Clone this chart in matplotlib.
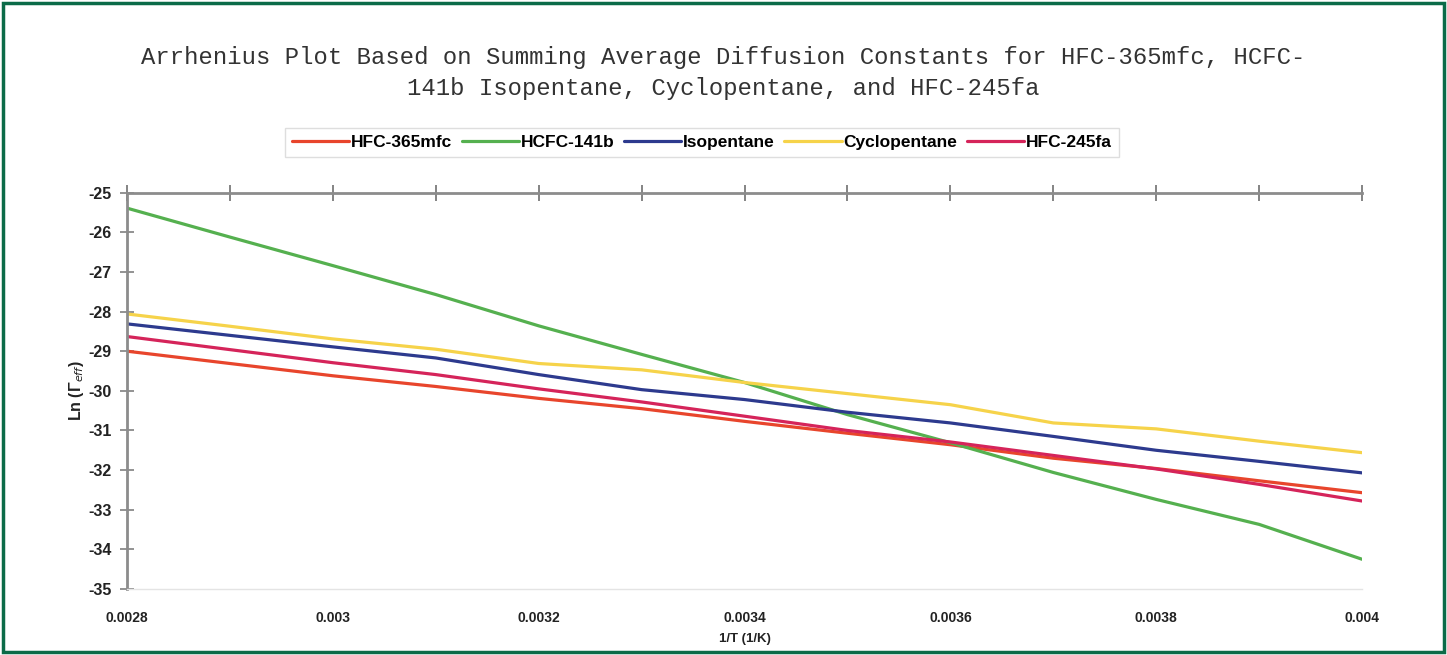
import matplotlib.pyplot as plt
from matplotlib.patches import Rectangle
from matplotlib.ticker import MultipleLocator

plt.rcParams['axes.unicode_minus'] = False

# Data (1/T in 1/K, Ln of effective diffusion constant)
inv_t = [0.0028, 0.0029, 0.0030, 0.0031, 0.0032, 0.0033, 0.0034,
         0.0035, 0.0036, 0.0037, 0.0038, 0.0039, 0.0040]

hfc_365mfc = [-29.00, -29.31, -29.62, -29.89, -30.19, -30.45, -30.77,
              -31.07, -31.36, -31.70, -31.96, -32.27, -32.57]
hcfc_141b = [-25.39, -26.12, -26.84, -27.57, -28.36, -29.08, -29.79,
             -30.60, -31.31, -32.06, -32.74, -33.37, -34.25]
isopentane = [-28.31, -28.60, -28.89, -29.17, -29.59, -29.97, -30.22,
              -30.54, -30.81, -31.15, -31.50, -31.78, -32.07]
cyclopentane = [-28.06, -28.37, -28.69, -28.95, -29.31, -29.47, -29.79,
                -30.07, -30.35, -30.81, -30.96, -31.27, -31.56]
hfc_245fa = [-28.63, -28.96, -29.29, -29.59, -29.95, -30.28, -30.64,
             -31.00, -31.29, -31.63, -31.97, -32.36, -32.78]

series = [
    ('HFC-365mfc', hfc_365mfc, '#e8452c'),
    ('HCFC-141b', hcfc_141b, '#55b04f'),
    ('Isopentane', isopentane, '#2d3a8e'),
    ('Cyclopentane', cyclopentane, '#f6d34a'),
    ('HFC-245fa', hfc_245fa, '#d5245a'),
]

sans = ['Liberation Sans', 'DejaVu Sans']
mono = ['Liberation Mono', 'DejaVu Sans Mono']

fig = plt.figure(figsize=(14.47, 6.55), dpi=100)
ax = fig.add_axes([0.0878, 0.1008, 0.9413 - 0.0878, 0.7058 - 0.1008])

for name, vals, col in series:
    ax.plot(inv_t, vals, color=col, lw=2.3, label=name, solid_capstyle='round')

ax.set_xlim(0.0028, 0.0040)
ax.set_ylim(-35, -25)

# axes styling: x axis line runs along the top, labels sit at the bottom
ax.spines['right'].set_visible(False)
ax.spines['bottom'].set_color('#e4e4e4')
ax.spines['bottom'].set_linewidth(1.0)
for side in ['left', 'top']:
    ax.spines[side].set_color('#8c8c8c')
    ax.spines[side].set_linewidth(2.0)

ax.xaxis.set_major_locator(MultipleLocator(0.0002))
ax.xaxis.set_minor_locator(MultipleLocator(0.0001))
ax.yaxis.set_major_locator(MultipleLocator(1))
ax.tick_params(axis='x', which='both', bottom=False, top=True, labelbottom=True,
               labeltop=False, direction='inout', length=11, width=1.2,
               color='#707070', pad=10)
ax.tick_params(axis='y', which='major', left=True, direction='inout', length=10,
               width=1.2, color='#808080', pad=6)
ax.set_xticks([0.0028, 0.0030, 0.0032, 0.0034, 0.0036, 0.0038, 0.0040])
ax.set_xticklabels(['0.0028', '0.003', '0.0032', '0.0034', '0.0036', '0.0038', '0.004'])
for lab in ax.get_xticklabels():
    lab.set_fontfamily(sans)
    lab.set_fontweight('bold')
    lab.set_fontsize(10)
    lab.set_color('#222222')
for lab in ax.get_yticklabels():
    lab.set_fontfamily(sans)
    lab.set_fontweight('bold')
    lab.set_fontsize(11.5)
    lab.set_color('#222222')

ax.set_xlabel('1/T (1/K)', fontfamily=sans, fontweight='bold', fontsize=9.5,
              color='#222222', labelpad=6)
ax.set_ylabel('Ln (Γ$_{eff}$)', fontfamily=sans, fontweight='bold',
              fontsize=11.5, color='#222222', labelpad=2)

# title in a typewriter face, two centred lines
fig.text(0.5, 0.912, 'Arrhenius Plot Based on Summing Average Diffusion Constants for HFC-365mfc, HCFC-',
         ha='center', va='center', fontfamily=mono, fontsize=17.2, color='#333333')
fig.text(0.5, 0.865, '141b Isopentane, Cyclopentane, and HFC-245fa',
         ha='center', va='center', fontfamily=mono, fontsize=17.2, color='#333333')

leg = fig.legend(loc='center', bbox_to_anchor=(0.485, 0.783), ncol=5,
                 prop={'family': sans, 'weight': 'bold', 'size': 12.5},
                 handlelength=3.3, handletextpad=0.1, columnspacing=0.55,
                 borderpad=0.4, fancybox=False, frameon=True)
leg.get_frame().set_edgecolor('#d6d6d6')
leg.get_frame().set_linewidth(1.0)

# green page border
fig.patches.append(Rectangle((0.002, 0.004), 0.996, 0.992, transform=fig.transFigure,
                             fill=False, edgecolor='#0b6b48', linewidth=2.5))

fig.savefig('out.png', dpi=100)
